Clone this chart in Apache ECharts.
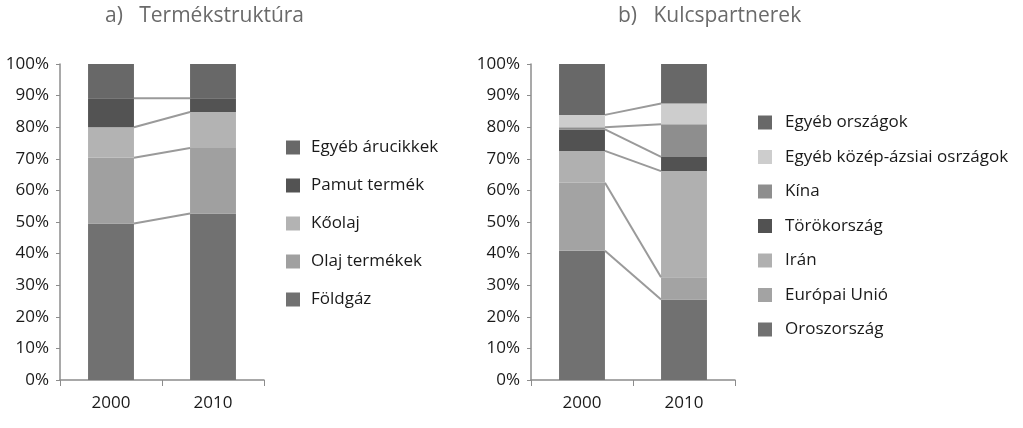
<!DOCTYPE html>
<html>
<head>
<meta charset="utf-8">
<script src="https://cdn.jsdelivr.net/npm/echarts@6/dist/echarts.min.js"></script>
<style>
  html, body { margin: 0; padding: 0; background: #fff; }
  #main { width: 1023px; height: 428px; }
</style>
</head>
<body>
<div id="main"></div>
<script>
// évek
var years = ['2000', '2010'];
var yTicks = ['0%', '10%', '20%', '30%', '40%', '50%', '60%', '70%', '80%', '90%', '100%'];

// a) Termékstruktúra (alulról felfelé)
var termekNames = ['Földgáz', 'Olaj termékek', 'Kőolaj', 'Pamut termék', 'Egyéb árucikkek'];
var foldgaz = [49.5, 52.7];
var olajTermekek = [20.8, 20.7];
var koolaj = [9.7, 11.4];
var pamut = [9.2, 4.4];
var egyebAru = [10.8, 10.8];

// b) Kulcspartnerek (alulról felfelé)
var partnerNames = ['Oroszország', 'Európai Unió', 'Irán', 'Törökország', 'Kína', 'Egyéb közép-ázsiai osrzágok', 'Egyéb országok'];
var oroszorszag = [40.9, 25.5];
var europaiUnio = [21.5, 7.0];
var iran = [10.1, 33.6];
var torokorszag = [6.8, 4.5];
var kina = [0.7, 10.3];
var egyebKozepAzsia = [3.9, 6.6];
var egyebOrszagok = [16.1, 12.5];

var termekColors = ['#717171', '#a0a0a0', '#b3b3b3', '#535353', '#686868'];
var partnerColors = ['#717171', '#a3a3a3', '#b0b0b0', '#525252', '#8e8e8e', '#cdcdcd', '#686868'];

var FONT = '"Open Sans", "Noto Sans", sans-serif';

function fnCumulative(list) {
  // összegzett határok a 2000 / 2010 oszlopok között (a legfelső 100% nélkül)
  var res = [], a = 0, b = 0;
  for (var i = 0; i < list.length - 1; i++) {
    a += list[i][0];
    b += list[i][1];
    res.push([0, a, b]);
  }
  return res;
}

function fnConnector(gridIndex, list) {
  return {
    type: 'custom',
    xAxisIndex: gridIndex,
    yAxisIndex: gridIndex,
    silent: true,
    z: 5,
    data: fnCumulative(list),
    encode: { x: 0, y: 1 },
    renderItem: function(params, api) {
      var p0 = api.coord([0, api.value(1)]);
      var p1 = api.coord([1, api.value(2)]);
      var hw = api.size([1, 0])[0] * 0.45 / 2;
      return {
        type: 'line',
        shape: { x1: p0[0] + hw, y1: p0[1], x2: p1[0] - hw, y2: p1[1] },
        style: { stroke: '#9a9a9a', lineWidth: 2 }
      };
    }
  };
}

function fnAxes(idx) {
  return {
    x: {
      type: 'category',
      gridIndex: idx,
      data: years,
      axisLine: { lineStyle: { color: '#8c8c8c', width: 1.5 } },
      axisTick: { show: true, length: 6, lineStyle: { color: '#8c8c8c' } },
      axisLabel: { color: '#1a1a1a', fontSize: 17, fontFamily: FONT, margin: 15 }
    },
    y: {
      type: 'value',
      gridIndex: idx,
      min: 0,
      max: 100,
      interval: 10,
      splitLine: { show: false },
      axisLine: { show: true, lineStyle: { color: '#8c8c8c', width: 1.5 } },
      axisTick: { show: true, length: 4, lineStyle: { color: '#8c8c8c' } },
      axisLabel: {
        color: '#1a1a1a', fontSize: 17, fontFamily: FONT, margin: 11,
        formatter: function(v) { return yTicks[Math.round(v / 10)]; }
      }
    }
  };
}

function fnBars(gridIndex, names, lists, colors, stack) {
  return names.map(function(name, i) {
    return {
      name: name,
      type: 'bar',
      stack: stack,
      xAxisIndex: gridIndex,
      yAxisIndex: gridIndex,
      barWidth: '45%',
      itemStyle: { color: colors[i] },
      data: lists[i]
    };
  });
}

var termekLists = [foldgaz, olajTermekek, koolaj, pamut, egyebAru];
var partnerLists = [oroszorszag, europaiUnio, iran, torokorszag, kina, egyebKozepAzsia, egyebOrszagok];

var a0 = fnAxes(0), a1 = fnAxes(1);

var chart = echarts.init(document.getElementById('main'));
chart.setOption({
  animation: false,
  backgroundColor: '#fff',
  title: [
    {
      text: 'a)   Termékstruktúra',
      left: 100, top: 1,
      textStyle: { color: '#6a6a6a', fontSize: 21, fontWeight: 'normal', fontFamily: FONT }
    },
    {
      text: 'b)   Kulcspartnerek',
      left: 613, top: 1,
      textStyle: { color: '#6a6a6a', fontSize: 21, fontWeight: 'normal', fontFamily: FONT }
    }
  ],
  legend: [
    {
      orient: 'vertical',
      left: 281, top: 134,
      icon: 'rect',
      itemWidth: 14, itemHeight: 14,
      itemGap: 21,
      data: termekNames.slice().reverse(),
      textStyle: { color: '#1a1a1a', fontSize: 17, fontFamily: FONT, padding: [0, 0, 0, 6] }
    },
    {
      orient: 'vertical',
      left: 753, top: 109,
      icon: 'rect',
      itemWidth: 14, itemHeight: 14,
      itemGap: 17.5,
      data: partnerNames.slice().reverse(),
      textStyle: { color: '#1a1a1a', fontSize: 17, fontFamily: FONT, padding: [0, 0, 0, 8] }
    }
  ],
  grid: [
    { left: 60, top: 64, width: 204, bottom: 48 },
    { left: 531, top: 64, width: 204, bottom: 48 }
  ],
  xAxis: [a0.x, a1.x],
  yAxis: [a0.y, a1.y],
  series: []
    .concat(fnBars(0, termekNames, termekLists, termekColors, 'a'))
    .concat(fnBars(1, partnerNames, partnerLists, partnerColors, 'b'))
    .concat([
      fnConnector(0, termekLists),
      fnConnector(1, partnerLists)
    ])
});
</script>
</body>
</html>
